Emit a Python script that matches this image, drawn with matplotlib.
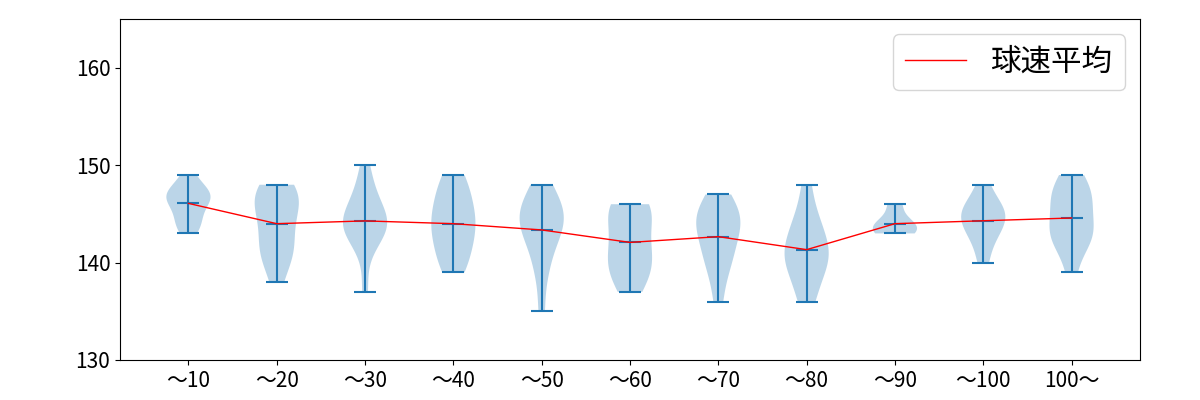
import matplotlib
matplotlib.use('Agg')
import matplotlib.pyplot as plt

plt.rcParams['font.family'] = ['Noto Sans CJK JP', 'DejaVu Sans']

# pitch speed (km/h) samples per pitch-count bucket
labels = ['〜10', '〜20', '〜30', '〜40', '〜50', '〜60', '〜70', '〜80', '〜90', '〜100', '100〜']
speeds = [
    [143, 144, 145, 146, 147, 147, 147, 147, 148, 149, 144, 146],
    [138, 140, 141, 142, 144, 145, 146, 146, 147, 147, 148, 148, 143, 141],
    [137, 141, 143, 143, 143, 144, 144, 144, 145, 145, 146, 147, 148, 150],
    [139, 140, 141, 142, 143, 144, 145, 146, 147, 148, 149, 144],
    [135, 139, 140, 142, 143, 144, 144, 145, 145, 146, 146, 147, 148, 143],
    [137, 138, 139, 140, 141, 142, 143, 144, 145, 146, 146, 146, 140],
    [136, 139, 141, 142, 143, 144, 144, 145, 145, 146, 147, 140],
    [136, 137, 139, 140, 140, 141, 141, 142, 143, 145, 148, 144],
    [143, 143, 144, 144, 146],
    [140, 142, 143, 144, 144, 145, 145, 146, 146, 148],
    [139, 142, 142, 143, 143, 144, 145, 146, 147, 147, 148, 149],
]
means = [sum(s) / len(s) for s in speeds]
positions = list(range(1, len(labels) + 1))

fig, ax = plt.subplots(figsize=(12, 4), dpi=100)
fig.subplots_adjust(left=0.1, right=0.95, bottom=0.1, top=0.952)

ax.violinplot(speeds, positions=positions, showmeans=True)
ax.plot(positions, means, color='red', linewidth=1, label='球速平均')

ax.set_ylim(130, 165)
ax.set_yticks([130, 140, 150, 160])
ax.set_xticks(positions)
ax.set_xticklabels(labels)
ax.tick_params(labelsize=15)
ax.legend(loc='upper right', fontsize=22)

plt.savefig('out.png')
plt.close()
